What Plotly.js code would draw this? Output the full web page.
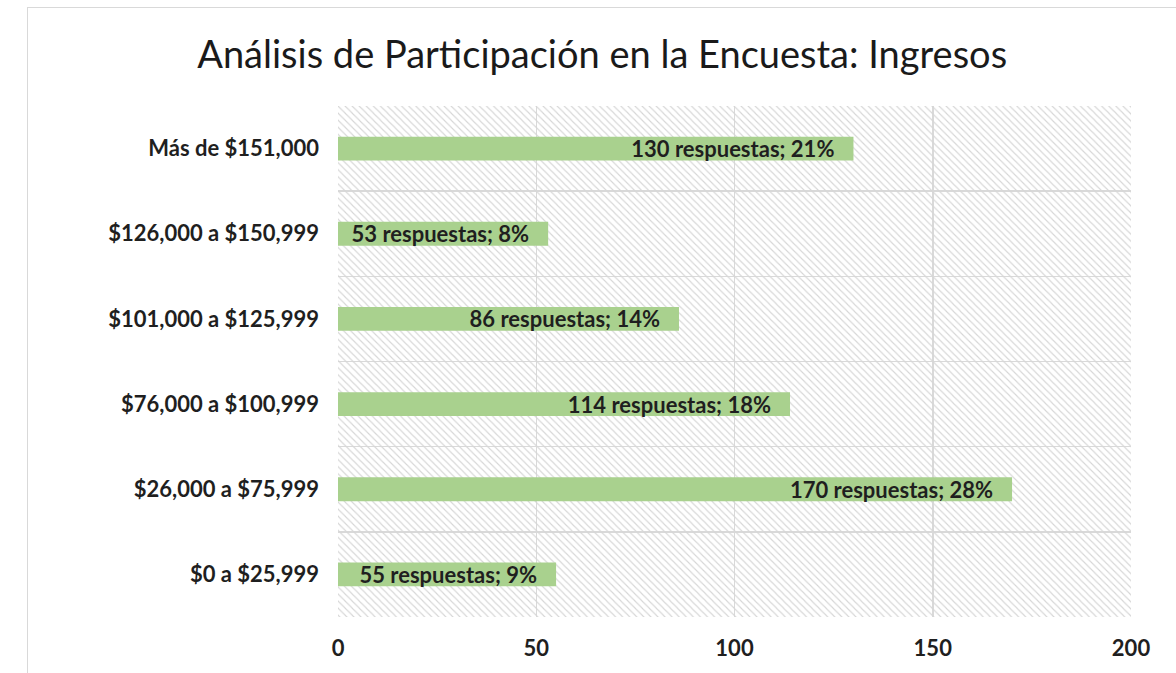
<!DOCTYPE html>
<html>
<head>
<meta charset="utf-8">
<script src="https://cdn.plot.ly/plotly-3.0.1.min.js"></script>
<style>
  body { margin: 0; background: #ffffff; overflow: hidden; }
  #chart {
    position: absolute;
    left: 27px;
    top: 7px;
    width: 1160px;
    height: 700px;
    border: 1px solid #d9d9d9;
  }
</style>
</head>
<body>
<div id="chart"></div>
<script>
// rangos de ingreso, de abajo hacia arriba
const categorias = [
  "$0 a $25,999",
  "$26,000 a $75,999",
  "$76,000 a $100,999",
  "$101,000 a $125,999",
  "$126,000 a $150,999",
  "Más de $151,000",
];
const respuestas = [55, 170, 114, 86, 53, 130];
const porcentajes = [9, 28, 18, 14, 8, 21];
const ejeX = [0, 50, 100, 150, 200];

const fontFamily = "Lato, 'Open Sans', sans-serif";
const textColor = "#1f1f1f";
const gridColor = "#d9d9d9";

// etiqueta pegada al extremo de la barra, con un poco de aire (nbsp)
const etiquetas = respuestas.map((n, i) => `${n} respuestas; ${porcentajes[i]}%\u00a0\u00a0\u00a0`);
const ejeMax = ejeX[ejeX.length - 1];

// fondo rayado del area de trazado
const fondo = {
  type: "bar",
  orientation: "h",
  y: categorias,
  x: categorias.map(() => ejeMax),
  width: 1,
  marker: {
    color: "rgba(0,0,0,0)",
    line: { width: 0 },
    pattern: {
      shape: "\\",
      size: 5,
      solidity: 0.22,
      fgcolor: "#d6d6d6",
      bgcolor: "rgba(0,0,0,0)",
    },
  },
  hoverinfo: "skip",
  showlegend: false,
};

const barras = {
  type: "bar",
  orientation: "h",
  y: categorias,
  x: respuestas,
  width: 0.28,
  marker: { color: "#a9d18e", line: { width: 0 } },
  text: etiquetas,
  textposition: "inside",
  insidetextanchor: "end",
  constraintext: "none",
  textangle: 0,
  cliponaxis: false,
  textfont: { family: fontFamily, size: 22, color: textColor, weight: "bold" },
  showlegend: false,
};

const layout = {
  title: {
    text: "Análisis de Participación en la Encuesta: Ingresos",
    font: { family: fontFamily, size: 38, color: "#1a1a1a" },
    xref: "container",
    yref: "container",
    x: 0.495,
    y: 0.933,
    xanchor: "center",
    yanchor: "middle",
  },
  barmode: "overlay",
  paper_bgcolor: "#ffffff",
  plot_bgcolor: "#ffffff",
  margin: { l: 310, r: 57, t: 98, b: 91 },
  xaxis: {
    range: [0, ejeMax],
    tickvals: ejeX,
    ticktext: ejeX.map(String),
    showgrid: true,
    gridcolor: gridColor,
    gridwidth: 1.5,
    zeroline: false,
    showline: false,
    ticks: "",
    ticklabelstandoff: 16,
    tickfont: { family: fontFamily, size: 22, color: textColor, weight: "bold" },
    fixedrange: true,
  },
  yaxis: {
    type: "category",
    categoryorder: "array",
    categoryarray: categorias,
    range: [-0.5, categorias.length - 0.5],
    tickson: "boundaries",
    showgrid: true,
    gridcolor: gridColor,
    gridwidth: 1.5,
    zeroline: false,
    showline: false,
    ticks: "",
    ticklabelstandoff: 18,
    tickfont: { family: fontFamily, size: 22, color: textColor, weight: "bold" },
    fixedrange: true,
  },
};

Plotly.newPlot("chart", [fondo, barras], layout, { displayModeBar: false, staticPlot: true });
</script>
</body>
</html>
